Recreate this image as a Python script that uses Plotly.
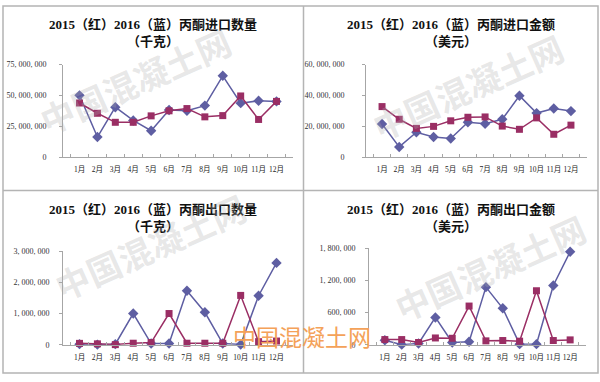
import plotly.graph_objects as go

months = ["1月", "2月", "3月", "4月", "5月", "6月", "7月", "8月", "9月", "10月", "11月", "12月"]

# Panel 1: import quantity (kg)
imp_qty_2016 = [50.1e6, 16.4e6, 40.5e6, 29.8e6, 21.5e6, 38.2e6, 37.6e6, 41.8e6, 65.9e6, 43.8e6, 45.7e6, 45.2e6]
imp_qty_2015 = [43.9e6, 35.6e6, 28.3e6, 28.3e6, 33.5e6, 37.6e6, 39.4e6, 32.7e6, 33.7e6, 49.6e6, 30.6e6, 45.2e6]
# Panel 2: import value (USD)
imp_val_2016 = [21.5e6, 6.7e6, 16.2e6, 13.1e6, 12.2e6, 22.7e6, 21.7e6, 24.6e6, 39.8e6, 28.6e6, 31.6e6, 29.9e6]
imp_val_2015 = [32.8e6, 24.6e6, 18.7e6, 20.0e6, 23.6e6, 25.9e6, 26.1e6, 20.2e6, 18.1e6, 25.5e6, 14.9e6, 20.8e6]
# Panel 3: export quantity (kg)
exp_qty_2016 = [20e3, 5e3, 20e3, 1.0e6, 40e3, 40e3, 1.73e6, 1.04e6, 40e3, 5e3, 1.57e6, 2.62e6]
exp_qty_2015 = [45e3, 30e3, 5e3, 50e3, 70e3, 1.0e6, 50e3, 50e3, 50e3, 1.58e6, 100e3, 120e3]
# Panel 4: export value (USD)
exp_val_2016 = [85e3, 2e3, 24e3, 509e3, 42e3, 55e3, 1073e3, 679e3, 12e3, 12e3, 1103e3, 1733e3]
exp_val_2015 = [97e3, 97e3, 42e3, 127e3, 121e3, 721e3, 73e3, 79e3, 67e3, 1006e3, 79e3, 91e3]

titles = [
    "2015（红）2016（蓝）丙酮进口数量<br>（千克）",
    "2015（红）2016（蓝）丙酮进口金额<br>（美元）",
    "2015（红）2016（蓝）丙酮出口数量<br>（千克）",
    "2015（红）2016（蓝）丙酮出口金额<br>（美元）",
]
tick_vals = [
    [0, 25e6, 50e6, 75e6],
    [0, 20e6, 40e6, 60e6],
    [0, 1e6, 2e6, 3e6],
    [0, 600e3, 1200e3, 1800e3],
]
tick_texts = [
    ["0", "25, 000, 000", "50, 000, 000", "75, 000, 000"],
    ["0", "20, 000, 000", "40, 000, 000", "60, 000, 000"],
    ["0", "1, 000, 000", "2, 000, 000", "3, 000, 000"],
    ["0", "600, 000", "1, 200, 000", "1, 800, 000"],
]
series_2016 = [imp_qty_2016, imp_val_2016, exp_qty_2016, exp_val_2016]
series_2015 = [imp_qty_2015, imp_val_2015, exp_qty_2015, exp_val_2015]

W, H = 600, 382
BLUE = "#5E5EA2"
RED = "#9A2E64"
AXC = "#A6A6A6"

# plot areas in pixels: (x0, x1, y_top, y_bottom)
areas = [
    (63, 293, 62, 157),
    (366, 587, 62, 157),
    (63, 293, 253, 349),
    (369, 586, 250, 349),
]
standoffs = [11, 16, 8, 8]
title_pos = [(153, 29.5), (451, 29.5), (153, 219.5), (451, 219.5)]

fig = go.Figure()
layout = {}
for i in range(4):
    n = "" if i == 0 else str(i + 1)
    x0, x1, yt, yb = areas[i]
    xa, ya = "x" + n, "y" + n
    fig.add_trace(go.Scatter(
        x=months, y=series_2016[i], xaxis=xa, yaxis=ya, mode="lines+markers",
        line=dict(color=BLUE, width=1.5),
        marker=dict(symbol="diamond", size=8, color=BLUE),
        showlegend=False, cliponaxis=False))
    fig.add_trace(go.Scatter(
        x=months, y=series_2015[i], xaxis=xa, yaxis=ya, mode="lines+markers",
        line=dict(color=RED, width=1.5),
        marker=dict(symbol="square", size=7, color=RED),
        showlegend=False, cliponaxis=False))
    layout["xaxis" + n] = dict(
        domain=[x0 / W, x1 / W], anchor=ya, type="category",
        showline=True, linecolor=AXC, linewidth=1,
        ticks="inside", ticklen=3, tickcolor=AXC, tickson="boundaries",
        showgrid=False, zeroline=False, tickangle=0, ticklabelstandoff=5,
        tickfont=dict(family="Liberation Serif, Noto Sans CJK SC", size=7.5, color="#222"),
        fixedrange=True)
    layout["yaxis" + n] = dict(
        domain=[1 - yb / H, 1 - yt / H], anchor=xa,
        range=[0, tick_vals[i][-1]], tickmode="array",
        tickvals=tick_vals[i], ticktext=tick_texts[i],
        showline=True, linecolor=AXC, linewidth=1,
        ticks="outside", ticklen=3, tickcolor=AXC,
        ticklabelstandoff=standoffs[i],
        showgrid=False, zeroline=False,
        tickfont=dict(family="Liberation Serif", size=8, color="#333"),
        fixedrange=True)

annotations = []
for i, (cx, cy) in enumerate(title_pos):
    annotations.append(dict(
        x=cx / W, y=1 - cy / H, xref="paper", yref="paper",
        text="<b>" + titles[i] + "</b>", showarrow=False,
        font=dict(family="Liberation Serif, Noto Sans CJK SC", size=13, color="#111"),
        align="center", xanchor="center", yanchor="middle"))

# faint diagonal watermarks
for (cx, cy) in [(135, 78), (468, 85), (150, 248), (490, 270)]:
    annotations.append(dict(
        x=cx / W, y=1 - cy / H, xref="paper", yref="paper",
        text="<b>中国混凝土网</b>", showarrow=False, textangle=-24,
        xanchor="center", yanchor="middle",
        font=dict(family="Noto Sans CJK SC", size=34, color="rgba(175,175,175,0.3)")))

# orange watermark text
annotations.append(dict(
    x=302 / W, y=1 - 340 / H, xref="paper", yref="paper",
    text="中国混凝土网", showarrow=False,
    font=dict(family="Noto Sans CJK SC", size=23, color="#F4A259"),
    xanchor="center", yanchor="middle"))

shapes = [
    dict(type="rect", xref="paper", yref="paper", x0=3 / W, x1=598 / W,
         y0=1 - 378 / H, y1=1 - 2 / H, line=dict(color="#B4B4B4", width=1.5)),
    dict(type="line", xref="paper", yref="paper", x0=303.5 / W, x1=303.5 / W,
         y0=1 - 378 / H, y1=1 - 2 / H, line=dict(color="#B4B4B4", width=1.5)),
    dict(type="line", xref="paper", yref="paper", x0=3 / W, x1=598 / W,
         y0=1 - 191 / H, y1=1 - 191 / H, line=dict(color="#B4B4B4", width=1.5)),
]

fig.update_layout(
    width=W, height=H, margin=dict(l=0, r=0, t=0, b=0),
    paper_bgcolor="white", plot_bgcolor="white",
    annotations=annotations, shapes=shapes, **layout)

fig.write_html(
    "out.html",
    config={"displayModeBar": False},
    post_script="document.body.style.margin='0';document.body.style.overflow='hidden';")
